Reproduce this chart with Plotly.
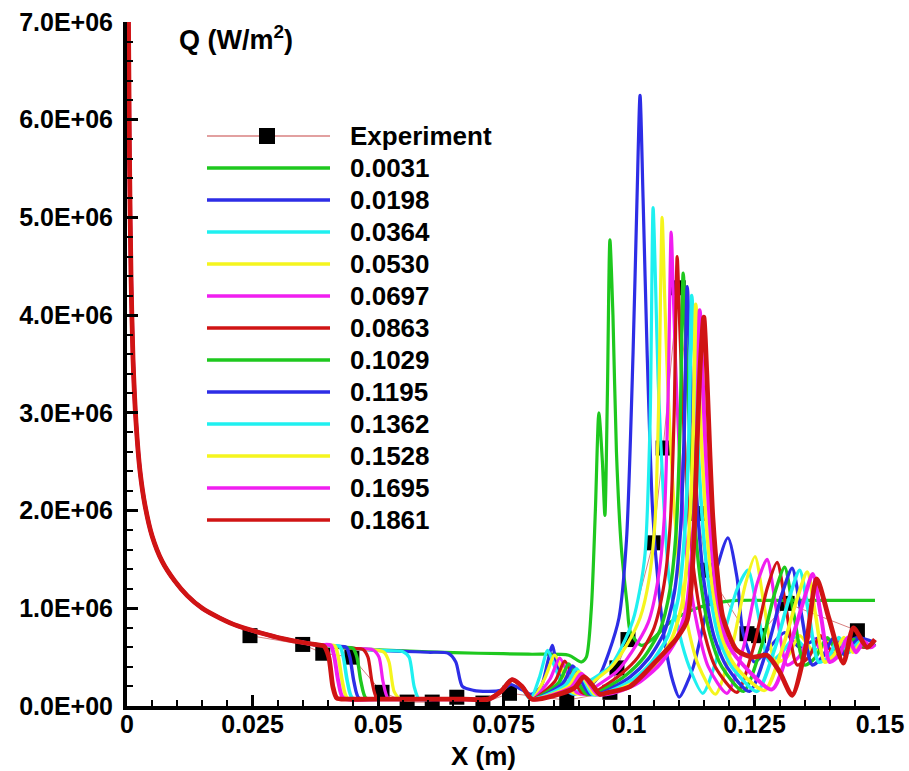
import plotly.graph_objects as go

# ---------------- data (Q in MW/m^2, converted to W/m^2 below) ----------------
LEAD_X = [0.00025, 0.0005, 0.0008, 0.0012, 0.0018, 0.0026, 0.0036, 0.005, 0.007, 0.0095,
          0.012, 0.015, 0.0185, 0.022, 0.0265, 0.031, 0.035, 0.038]
LEAD_Q = [7.3, 5.6, 4.4, 3.55, 2.9, 2.4, 2.05, 1.74, 1.48, 1.28,
          1.13, 1.0, 0.9, 0.82, 0.75, 0.69, 0.65, 0.625]

EXP_X = [0.0245, 0.035, 0.039, 0.0448, 0.0508, 0.0558, 0.0608, 0.0657, 0.0709, 0.0762, 0.0876,
         0.0962, 0.0976, 0.0998, 0.1048, 0.1068, 0.1098, 0.1137, 0.1155, 0.1235, 0.1258, 0.1315, 0.1455]
EXP_Q = [0.72, 0.63, 0.54, 0.5, 0.14, 0.04, 0.04, 0.09, 0.03, 0.13, 0.06,
         0.14, 0.39, 0.68, 1.67, 2.64, 4.28, 1.97, 1.39, 0.74, 0.72, 1.05, 0.77]

NAMES = ["0.0031", "0.0198", "0.0364", "0.0530", "0.0697", "0.0863",
         "0.1029", "0.1195", "0.1362", "0.1528", "0.1695", "0.1861"]
COLORS = ["#1ec81e", "#2d2de6", "#1ff0f0", "#f5f51e", "#f01ef0", "#d01414",
          "#1ec81e", "#2d2de6", "#1ff0f0", "#f5f51e", "#f01ef0", "#d01414"]
WIDTHS = [3.2, 3.2, 3.2, 3.2, 3.2, 3.2, 3.4, 3.4, 3.6, 3.6, 4, 4.8]

C1_X = [0.042, 0.05, 0.06, 0.07, 0.08, 0.088, 0.0905, 0.0915, 0.0925, 0.0933, 0.094, 0.0947,
        0.0952, 0.0957, 0.0962, 0.0968, 0.0975, 0.0985, 0.0996, 0.1003, 0.1025, 0.105, 0.108,
        0.112, 0.117, 0.1215, 0.13, 0.14, 0.149]
C1_Q = [0.6, 0.575, 0.555, 0.54, 0.53, 0.52, 0.45, 0.5, 1.0, 2.0, 3.0, 2.5,
        1.95, 3.2, 4.77, 4.0, 2.6, 1.6, 1.05, 0.75, 0.62, 0.7, 0.85,
        0.97, 1.05, 1.08, 1.08, 1.08, 1.08]

C2_X = [0.045, 0.05, 0.055, 0.06, 0.064, 0.0655, 0.0668, 0.069, 0.072, 0.0745, 0.0765, 0.0785,
        0.0805, 0.0825, 0.0838, 0.0847, 0.0857, 0.087, 0.089, 0.092, 0.094, 0.096, 0.098, 0.0995,
        0.1008, 0.1016, 0.1022, 0.1028, 0.1036, 0.1047, 0.1058, 0.1073, 0.1088, 0.110, 0.1128,
        0.1167, 0.1197, 0.1215, 0.1227, 0.125, 0.128, 0.131, 0.134, 0.138, 0.142, 0.1455, 0.149]
C2_Q = [0.59, 0.57, 0.56, 0.55, 0.54, 0.45, 0.2, 0.16, 0.15, 0.16, 0.22, 0.17,
        0.12, 0.2, 0.45, 0.62, 0.4, 0.18, 0.12, 0.2, 0.3, 0.55, 0.9, 1.7,
        3.6, 5.2, 6.25, 5.2, 3.64, 2.0, 1.26, 0.6, 0.24, 0.09, 0.4,
        1.26, 1.72, 1.32, 0.75, 0.45, 0.6, 0.75, 0.6, 0.7, 0.62, 0.7, 0.65]

C3_X = [0.045, 0.05, 0.055, 0.0562, 0.0572, 0.0582, 0.062, 0.067, 0.072, 0.0745, 0.0765, 0.0785,
        0.0803, 0.0822, 0.0838, 0.0852, 0.087, 0.089, 0.092, 0.0962, 0.0985, 0.1008, 0.1022, 0.1032,
        0.1042, 0.1048, 0.1053, 0.1058, 0.1068, 0.108, 0.110, 0.112, 0.1147, 0.118, 0.1215, 0.1237,
        0.1255, 0.128, 0.1305, 0.133, 0.136, 0.14, 0.144, 0.149]
C3_Q = [0.59, 0.57, 0.555, 0.5, 0.2, 0.07, 0.07, 0.07, 0.07, 0.15, 0.27, 0.2,
        0.07, 0.3, 0.57, 0.4, 0.2, 0.12, 0.25, 0.4, 0.6, 0.88, 1.2, 1.56,
        2.9, 5.1, 4.3, 3.34, 2.2, 1.3, 0.75, 0.4, 0.13, 0.57, 1.19, 1.39,
        1.0, 0.45, 0.55, 0.7, 0.55, 0.65, 0.6, 0.62]

C4_X = [0.045, 0.05, 0.0512, 0.0522, 0.0532, 0.0545, 0.06, 0.067, 0.072, 0.0745, 0.0767, 0.0787,
        0.0807, 0.0832, 0.0852, 0.0868, 0.0885, 0.0905, 0.093, 0.0965, 0.0995, 0.1022, 0.104, 0.1052,
        0.106, 0.1066, 0.1071, 0.1077, 0.1088, 0.110, 0.1118, 0.1138, 0.1172, 0.1205, 0.1232, 0.1251,
        0.127, 0.1292, 0.1315, 0.134, 0.137, 0.1405, 0.1445, 0.149]
C4_Q = [0.59, 0.57, 0.55, 0.45, 0.15, 0.07, 0.07, 0.07, 0.07, 0.15, 0.27, 0.2,
        0.07, 0.28, 0.52, 0.35, 0.15, 0.12, 0.25, 0.4, 0.62, 0.9, 1.3, 1.9,
        3.3, 5.0, 4.2, 3.3, 2.2, 1.4, 0.8, 0.42, 0.12, 0.6, 1.25, 1.53,
        1.0, 0.45, 0.5, 0.72, 0.55, 0.68, 0.6, 0.63]

C5_X = [0.045, 0.049, 0.0502, 0.051, 0.052, 0.055, 0.06, 0.067, 0.072, 0.0745, 0.0767, 0.0787,
        0.0807, 0.0842, 0.0862, 0.0878, 0.0895, 0.0912, 0.094, 0.0975, 0.1005, 0.1038, 0.1058, 0.107,
        0.1078, 0.1084, 0.1089, 0.1095, 0.1106, 0.1118, 0.1137, 0.1158, 0.1195, 0.1228, 0.1255, 0.1275,
        0.1293, 0.1315, 0.1338, 0.1362, 0.139, 0.1425, 0.1455, 0.149]
C5_Q = [0.59, 0.575, 0.5, 0.25, 0.08, 0.07, 0.07, 0.07, 0.07, 0.15, 0.27, 0.2,
        0.07, 0.27, 0.49, 0.33, 0.14, 0.12, 0.22, 0.35, 0.55, 0.85, 1.3, 1.9,
        3.2, 4.85, 4.1, 3.2, 2.1, 1.4, 0.8, 0.4, 0.13, 0.6, 1.25, 1.5,
        1.0, 0.42, 0.5, 0.72, 0.52, 0.68, 0.6, 0.64]

C6_X = [0.045, 0.047, 0.048, 0.0488, 0.0498, 0.053, 0.06, 0.067, 0.072, 0.0745, 0.0767, 0.0787,
        0.0807, 0.0852, 0.0872, 0.0888, 0.0905, 0.0922, 0.095, 0.0985, 0.1018, 0.105, 0.107, 0.1082,
        0.109, 0.1096, 0.1101, 0.1107, 0.1118, 0.113, 0.115, 0.1172, 0.1215, 0.1248, 0.1275, 0.1295,
        0.1313, 0.1335, 0.1358, 0.1382, 0.141, 0.1442, 0.1468, 0.149]
C6_Q = [0.59, 0.58, 0.5, 0.25, 0.08, 0.07, 0.07, 0.07, 0.07, 0.15, 0.27, 0.2,
        0.07, 0.25, 0.46, 0.3, 0.14, 0.12, 0.2, 0.33, 0.5, 0.8, 1.25, 1.85,
        3.0, 4.6, 3.9, 3.1, 2.0, 1.35, 0.75, 0.4, 0.14, 0.6, 1.2, 1.47,
        1.0, 0.42, 0.5, 0.72, 0.52, 0.68, 0.6, 0.64]

C7_X = [0.043, 0.045, 0.0458, 0.0466, 0.0476, 0.051, 0.06, 0.067, 0.072, 0.0745, 0.0767, 0.0787,
        0.0807, 0.086, 0.088, 0.0896, 0.0913, 0.093, 0.096, 0.0995, 0.103, 0.1062, 0.1082, 0.1094,
        0.1102, 0.1108, 0.1113, 0.1119, 0.113, 0.1142, 0.1162, 0.1185, 0.1228, 0.1262, 0.129, 0.131,
        0.1328, 0.135, 0.1372, 0.1395, 0.142, 0.1448, 0.1472, 0.149]
C7_Q = [0.6, 0.59, 0.5, 0.25, 0.08, 0.07, 0.07, 0.07, 0.07, 0.15, 0.27, 0.2,
        0.07, 0.24, 0.43, 0.28, 0.13, 0.12, 0.2, 0.32, 0.5, 0.78, 1.2, 1.8,
        2.9, 4.43, 3.8, 3.0, 1.95, 1.3, 0.72, 0.4, 0.15, 0.58, 1.15, 1.42,
        0.95, 0.42, 0.5, 0.7, 0.52, 0.68, 0.6, 0.64]

C8_X = [0.042, 0.0437, 0.0444, 0.0452, 0.0462, 0.05, 0.06, 0.067, 0.072, 0.0745, 0.0767, 0.0787,
        0.0807, 0.0868, 0.0888, 0.0904, 0.092, 0.0937, 0.0968, 0.1003, 0.1038, 0.107, 0.109, 0.1102,
        0.111, 0.1116, 0.1121, 0.1127, 0.1138, 0.115, 0.117, 0.1195, 0.124, 0.1275, 0.1305, 0.1325,
        0.1343, 0.1365, 0.1385, 0.1408, 0.143, 0.1455, 0.1475, 0.149]
C8_Q = [0.61, 0.6, 0.5, 0.25, 0.08, 0.07, 0.07, 0.07, 0.07, 0.15, 0.27, 0.2,
        0.07, 0.23, 0.41, 0.27, 0.13, 0.12, 0.19, 0.3, 0.48, 0.75, 1.15, 1.75,
        2.8, 4.29, 3.7, 2.9, 1.9, 1.25, 0.7, 0.4, 0.15, 0.58, 1.15, 1.41,
        0.95, 0.42, 0.5, 0.7, 0.52, 0.68, 0.6, 0.64]

C9_X = [0.041, 0.0424, 0.0431, 0.0439, 0.0449, 0.05, 0.06, 0.067, 0.072, 0.0745, 0.0767, 0.0787,
        0.0807, 0.0875, 0.0895, 0.0911, 0.0927, 0.0944, 0.0975, 0.101, 0.1045, 0.1078, 0.1098, 0.111,
        0.1119, 0.1125, 0.113, 0.1136, 0.1147, 0.116, 0.118, 0.1205, 0.1255, 0.129, 0.132, 0.134,
        0.1358, 0.1378, 0.1398, 0.1418, 0.1438, 0.146, 0.1478, 0.149]
C9_Q = [0.615, 0.61, 0.5, 0.25, 0.08, 0.07, 0.07, 0.07, 0.07, 0.15, 0.27, 0.2,
        0.07, 0.22, 0.38, 0.26, 0.12, 0.12, 0.18, 0.28, 0.45, 0.72, 1.1, 1.7,
        2.7, 4.2, 3.6, 2.8, 1.85, 1.2, 0.68, 0.4, 0.15, 0.58, 1.12, 1.39,
        0.95, 0.45, 0.5, 0.7, 0.55, 0.66, 0.6, 0.63]

C10_X = [0.04, 0.0414, 0.0421, 0.0429, 0.0439, 0.05, 0.06, 0.067, 0.072, 0.0745, 0.0767, 0.0787,
         0.0807, 0.088, 0.09, 0.0916, 0.0932, 0.0949, 0.098, 0.1017, 0.1053, 0.1086, 0.1106, 0.1118,
         0.1127, 0.1133, 0.1138, 0.1144, 0.1155, 0.1168, 0.1188, 0.1213, 0.127, 0.1305, 0.1335, 0.1355,
         0.1372, 0.139, 0.1408, 0.1428, 0.1446, 0.1465, 0.148, 0.149]
C10_Q = [0.62, 0.615, 0.5, 0.25, 0.08, 0.07, 0.07, 0.07, 0.07, 0.15, 0.27, 0.2,
         0.07, 0.2, 0.35, 0.24, 0.12, 0.12, 0.17, 0.26, 0.42, 0.7, 1.05, 1.65,
         2.6, 4.11, 3.5, 2.75, 1.8, 1.15, 0.66, 0.4, 0.16, 0.58, 1.1, 1.37,
         0.92, 0.45, 0.52, 0.7, 0.55, 0.66, 0.6, 0.63]

C11_X = [0.039, 0.0406, 0.0413, 0.0421, 0.0431, 0.05, 0.06, 0.067, 0.072, 0.0745, 0.0767, 0.0787,
         0.0807, 0.0885, 0.0905, 0.0921, 0.0937, 0.0954, 0.0985, 0.1022, 0.106, 0.1094, 0.1114, 0.1126,
         0.1135, 0.1141, 0.1146, 0.1152, 0.1163, 0.1176, 0.1196, 0.1222, 0.1285, 0.1318, 0.1348, 0.1366,
         0.1383, 0.14, 0.1418, 0.1436, 0.1452, 0.1468, 0.1482, 0.149]
C11_Q = [0.625, 0.62, 0.5, 0.25, 0.08, 0.07, 0.07, 0.07, 0.07, 0.15, 0.27, 0.2,
         0.07, 0.19, 0.33, 0.23, 0.12, 0.12, 0.16, 0.25, 0.42, 0.68, 1.0, 1.6,
         2.6, 4.05, 3.45, 2.7, 1.75, 1.1, 0.65, 0.45, 0.17, 0.58, 1.08, 1.35,
         0.9, 0.45, 0.52, 0.7, 0.55, 0.66, 0.6, 0.63]

C12_X = [0.0392, 0.0402, 0.041, 0.0418, 0.044, 0.05, 0.06, 0.067, 0.072, 0.0745, 0.0767, 0.0787,
         0.0807, 0.089, 0.091, 0.0926, 0.0942, 0.096, 0.1002, 0.1056, 0.1096, 0.1116, 0.1128, 0.1135,
         0.1142, 0.1149, 0.1155, 0.1161, 0.1167, 0.1177, 0.1187, 0.1215, 0.1247, 0.1275, 0.13, 0.1325,
         0.1352, 0.1374, 0.1398, 0.1427, 0.1447, 0.1474, 0.149]
C12_Q = [0.615, 0.5, 0.2, 0.08, 0.07, 0.07, 0.07, 0.07, 0.07, 0.15, 0.27, 0.2,
         0.07, 0.18, 0.3, 0.22, 0.12, 0.14, 0.2, 0.47, 0.7, 0.88, 1.56, 2.6,
         3.5, 3.98, 3.4, 2.6, 1.93, 1.3, 0.91, 0.57, 0.5, 0.52, 0.35, 0.11,
         0.6, 1.3, 0.9, 0.44, 0.8, 0.6, 0.68]

TAILS_X = [C1_X, C2_X, C3_X, C4_X, C5_X, C6_X, C7_X, C8_X, C9_X, C10_X, C11_X, C12_X]
TAILS_Q = [C1_Q, C2_Q, C3_Q, C4_Q, C5_Q, C6_Q, C7_Q, C8_Q, C9_Q, C10_Q, C11_Q, C12_Q]

X_TICKS = [0, 0.025, 0.05, 0.075, 0.1, 0.125, 0.15]
X_TICKTEXT = ["0", "0.025", "0.05", "0.075", "0.1", "0.125", "0.15"]
Y_TICKS = [0, 1e6, 2e6, 3e6, 4e6, 5e6, 6e6, 7e6]
Y_TICKTEXT = ["0.0E+00", "1.0E+06", "2.0E+06", "3.0E+06", "4.0E+06", "5.0E+06", "6.0E+06", "7.0E+06"]

# ---------------- figure ----------------
W, H = 909, 771
ML, MR, MT, MB = 127, 29, 22, 65
PW, PH = W - ML - MR, H - MT - MB
FONT = "Liberation Sans, Arial, Helvetica, sans-serif"


def px_to_paper(px, py):
    return (px - ML) / PW, (H - MB - py) / PH


fig = go.Figure()

fig.add_trace(go.Scatter(
    x=EXP_X, y=[v * 1e6 for v in EXP_Q], mode="lines+markers", name="Experiment",
    line=dict(color="#d88080", width=1),
    marker=dict(symbol="square", size=15, color="black"),
    showlegend=False))

for name, col, wd, tx, tq in zip(NAMES, COLORS, WIDTHS, TAILS_X, TAILS_Q):
    xs = LEAD_X + tx
    qs = [v * 1e6 for v in LEAD_Q + tq]
    fig.add_trace(go.Scatter(
        x=xs, y=qs, mode="lines", name=name,
        line=dict(color=col, width=wd, shape="spline", smoothing=0.7),
        showlegend=False))

# ---------------- manual legend (long sample lines as in the reference) ----------------
shapes = []
annotations = []
row0, dy = 136, 32
lx0, lx1, tx_ = 207, 330, 348
labels = ["Experiment"] + NAMES
for i, lab in enumerate(labels):
    py = row0 + i * dy
    x0, y0 = px_to_paper(lx0, py)
    x1, _ = px_to_paper(lx1, py)
    if i == 0:
        shapes.append(dict(type="line", xref="paper", yref="paper", x0=x0, x1=x1, y0=y0, y1=y0,
                           line=dict(color="#d88080", width=1.5)))
        sx0, sy0 = px_to_paper(259, py + 8)
        sx1, sy1 = px_to_paper(275, py - 8)
        shapes.append(dict(type="rect", xref="paper", yref="paper", x0=sx0, x1=sx1, y0=sy0, y1=sy1,
                           fillcolor="black", line=dict(width=0)))
    else:
        shapes.append(dict(type="line", xref="paper", yref="paper", x0=x0, x1=x1, y0=y0, y1=y0,
                           line=dict(color=COLORS[i - 1], width=3.5)))
    tx0, ty0 = px_to_paper(tx_, py)
    annotations.append(dict(xref="paper", yref="paper", x=tx0, y=ty0, xanchor="left", yanchor="middle",
                            text=lab, showarrow=False,
                            font=dict(family=FONT, size=26, color="black", weight="bold")))

qx, qy = px_to_paper(177, 38)
annotations.append(dict(xref="paper", yref="paper", x=qx, y=qy, xanchor="left", yanchor="middle",
                        text="Q (W/m<sup>2</sup>)", showarrow=False,
                        font=dict(family=FONT, size=27, color="black", weight="bold")))

xtx, xty = px_to_paper(483, 756)
annotations.append(dict(xref="paper", yref="paper", x=xtx, y=xty, xanchor="center", yanchor="middle",
                        text="X (m)", showarrow=False,
                        font=dict(family=FONT, size=26, color="black", weight="bold")))

fig.update_layout(
    width=W, height=H,
    margin=dict(l=ML, r=MR, t=MT, b=MB, pad=0, autoexpand=False),
    paper_bgcolor="white", plot_bgcolor="white",
    shapes=shapes, annotations=annotations,
    font=dict(family=FONT, color="black"),
    xaxis=dict(
        range=[0, 0.15], showgrid=False, zeroline=False, automargin=False,
        showline=True, linewidth=4, linecolor="black",
        tickmode="array", tickvals=X_TICKS, ticktext=X_TICKTEXT,
        ticks="inside", ticklen=11, tickwidth=3, tickcolor="black",
        minor=dict(ticks="inside", ticklen=6, tickwidth=2, tickcolor="black",
                   tickmode="linear", tick0=0, dtick=0.005, showgrid=False),
        tickfont=dict(family=FONT, size=25, color="black", weight="bold"),
        ticklabelstandoff=-7,
    ),
    yaxis=dict(
        range=[0, 7e6], showgrid=False, zeroline=False, automargin=False,
        showline=True, linewidth=4, linecolor="black",
        tickmode="array", tickvals=Y_TICKS, ticktext=Y_TICKTEXT,
        ticks="inside", ticklen=11, tickwidth=3, tickcolor="black",
        minor=dict(ticks="inside", ticklen=6, tickwidth=2, tickcolor="black",
                   tickmode="linear", tick0=0, dtick=2e5, showgrid=False),
        tickfont=dict(family=FONT, size=25, color="black", weight="bold"),
        ticklabelstandoff=5,
    ),
)

fig.write_html("out.html")
